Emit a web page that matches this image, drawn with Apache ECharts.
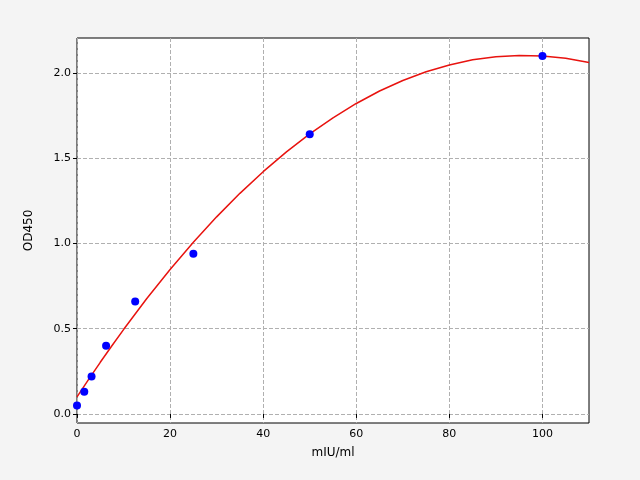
<!DOCTYPE html>
<html><head><meta charset="utf-8">
<script src="https://cdn.jsdelivr.net/npm/echarts@6/dist/echarts.min.js"></script>
<style>html,body{margin:0;padding:0;background:#f4f4f4}#c{width:640px;height:480px}</style>
</head><body><div id="c"></div>
<script>
const pointX = [0, 1.5625, 3.125, 6.25, 12.5, 25, 50, 100];
const pointY = [0.05, 0.13, 0.22, 0.40, 0.66, 0.94, 1.64, 2.10];
const curveX = [0, 2.5, 5, 7.5, 10, 15, 20, 25, 30, 35, 40, 45, 50, 55, 60, 65, 70, 75, 80, 85, 90, 95, 100, 105, 110];
const curveY = [0.100, 0.203, 0.303, 0.400, 0.495, 0.677, 0.847, 1.007, 1.156, 1.294, 1.421, 1.537, 1.643, 1.737, 1.821, 1.894, 1.956, 2.007, 2.047, 2.077, 2.095, 2.103, 2.100, 2.086, 2.061];
const xTicks = [0, 20, 40, 60, 80, 100];
const yTicks = [0.0, 0.5, 1.0, 1.5, 2.0];

const font = 'DejaVu Sans';
const chart = echarts.init(document.getElementById('c'));
chart.setOption({
  backgroundColor: '#f4f4f4',
  animation: false,
  grid: {left: 77, right: 51, top: 38, bottom: 57, show: true, backgroundColor: '#fff', borderColor: '#000', borderWidth: 1},
  xAxis: {
    type: 'value', min: 0, max: 110,
    name: 'mIU/ml', nameLocation: 'middle', nameGap: 24,
    nameTextStyle: {fontFamily: font, fontSize: 12, color: '#000'},
    axisLine: {show: false},
    axisTick: {show: true, inside: false, length: 4, lineStyle: {color: '#000'}, customValues: xTicks},
    axisLabel: {fontFamily: font, fontSize: 11, color: '#000', margin: 6, customValues: xTicks, formatter: v => String(v)},
    splitLine: {show: true, lineStyle: {color: '#b0b0b0', type: [4, 2]}}
  },
  yAxis: {
    type: 'value', min: -0.053, max: 2.205,
    name: 'OD450', nameLocation: 'middle', nameGap: 42,
    nameTextStyle: {fontFamily: font, fontSize: 12, color: '#000'},
    axisLine: {show: false},
    axisTick: {show: true, inside: false, length: 4, lineStyle: {color: '#000'}, customValues: yTicks},
    axisLabel: {fontFamily: font, fontSize: 11, color: '#000', margin: 6, customValues: yTicks, formatter: v => v.toFixed(1)},
    splitLine: {show: true, lineStyle: {color: '#b0b0b0', type: [4, 2]}}
  },
  series: [
    {type: 'line', data: curveX.map((x, i) => [x, curveY[i]]), smooth: false, showSymbol: false,
     lineStyle: {color: '#e8130f', width: 1.5}, z: 2},
    {type: 'scatter', data: pointX.map((x, i) => [x, pointY[i]]), symbolSize: 8,
     itemStyle: {color: '#0000ff', opacity: 1}, z: 3}
  ]
});
</script></body></html>
